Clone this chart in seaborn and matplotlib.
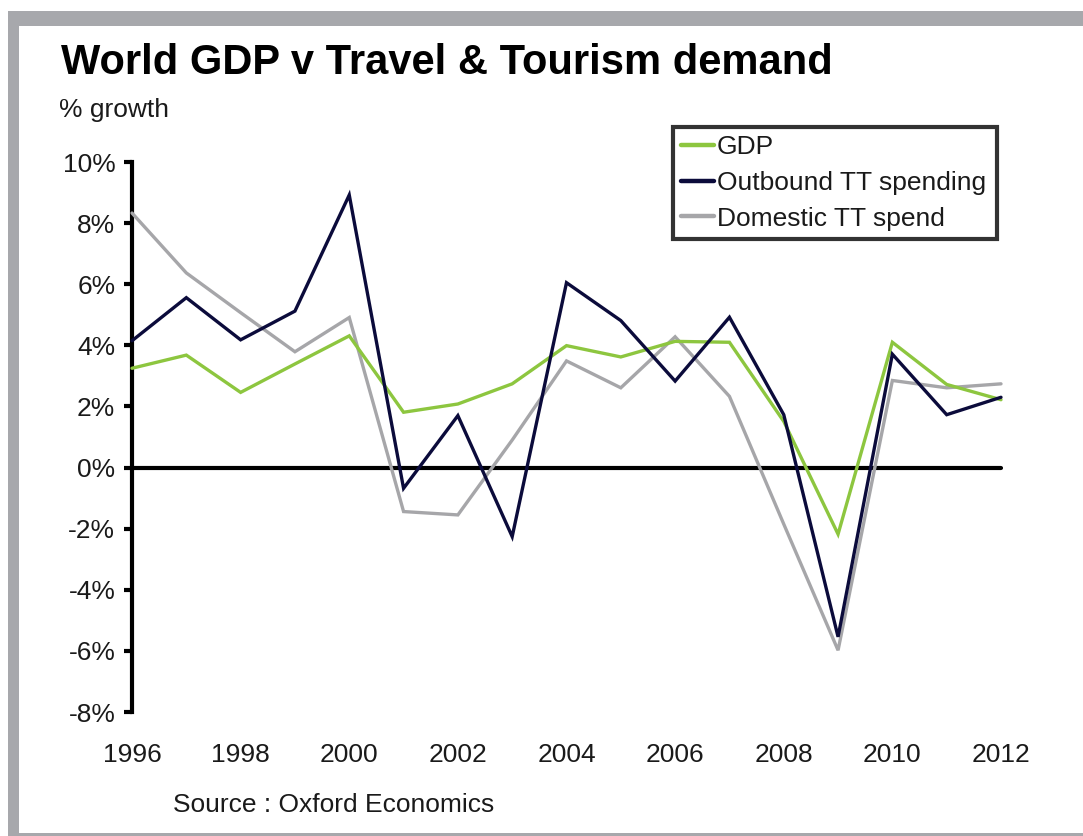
import matplotlib
matplotlib.use("Agg")
import matplotlib.pyplot as plt
from matplotlib.patches import Rectangle
from matplotlib.lines import Line2D
import pandas as pd
import seaborn as sns

# Annual growth rates (%), 1996-2012
years = list(range(1996, 2013))
gdp = [3.25, 3.68, 2.46, 3.39, 4.31, 1.81, 2.08, 2.74, 3.99, 3.62, 4.13, 4.10, 1.51, -2.18, 4.10, 2.72, 2.22]
outbound = [4.15, 5.56, 4.18, 5.12, 8.92, -0.68, 1.70, -2.26, 6.05, 4.81, 2.83, 4.92, 1.73, -5.54, 3.71, 1.73, 2.30]
domestic = [8.33, 6.37, 5.07, 3.79, 4.91, -1.44, -1.55, 0.90, 3.49, 2.61, 4.28, 2.33, -1.85, -5.98, 2.85, 2.61, 2.74]

series_names = ["GDP", "Outbound TT spending", "Domestic TT spend"]
series_colors = ["#8DC63F", "#0B0B3B", "#A6A6A9"]
y_ticks = list(range(-8, 11, 2))
x_ticks = list(range(1996, 2013, 2))

df = pd.DataFrame({
    "year": years * 3,
    "growth": gdp + outbound + domestic,
    "series": [series_names[0]] * len(years) + [series_names[1]] * len(years) + [series_names[2]] * len(years),
})

sns.set_style("white")
plt.rcParams["font.family"] = ["Liberation Sans", "DejaVu Sans"]

W, H = 1083, 836
fig = plt.figure(figsize=(W / 100, H / 100), dpi=100)
fig.patch.set_facecolor("white")

# outer grey frame (top, left, bottom bands)
frame_c = "#A7A8AC"
for (x0, y0, w, h) in [(8, 11, W - 8, 15), (8, 11, 11, H - 11), (8, H - 3, W - 8, 3)]:
    fig.add_artist(Rectangle((x0 / W, 1 - (y0 + h) / H), w / W, h / H,
                             transform=fig.transFigure, facecolor=frame_c,
                             edgecolor="none", zorder=0))

ax_left, ax_right, ax_top, ax_bottom = 132, 1001, 162, 712
ax = fig.add_axes([ax_left / W, 1 - ax_bottom / H, (ax_right - ax_left) / W, (ax_bottom - ax_top) / H])
ax.set_facecolor("none")

sns.lineplot(data=df, x="year", y="growth", hue="series", hue_order=series_names,
             palette=series_colors, linewidth=2.4, ax=ax, legend=False)
for ln, z in zip(ax.lines, [4, 5, 3]):
    ln.set_zorder(z)
    ln.set_clip_on(False)
    ln.set_solid_joinstyle("miter")

ax.axhline(0, color="black", linewidth=3, zorder=2, clip_on=False)

ax.set_xlim(1996, 2012)
ax.set_ylim(-8, 10)
ax.set_yticks(y_ticks)
ax.set_yticklabels([f"{v}%" for v in y_ticks])
ax.set_xticks(x_ticks)
ax.set_xticklabels([str(v) for v in x_ticks])
ax.set_xlabel("")
ax.set_ylabel("")

for s in ["top", "right", "bottom"]:
    ax.spines[s].set_visible(False)
ax.spines["left"].set_linewidth(3)
ax.spines["left"].set_color("black")
ax.tick_params(axis="y", direction="out", length=6, width=3, color="black",
               pad=6, labelsize=19, labelcolor="#1a1a1a", left=True)
ax.tick_params(axis="x", length=0, pad=22, labelsize=19, labelcolor="#1a1a1a")

# legend box
handles = [Line2D([], [], color=c, linewidth=3.2) for c in series_colors]
leg = ax.legend(handles, series_names, loc="upper left", mode="expand",
                bbox_to_anchor=(673 / W, 1 - 238 / H, (997 - 673) / W, (238 - 127) / H),
                bbox_transform=fig.transFigure, borderaxespad=0, frameon=True,
                fancybox=False, fontsize=19, handlelength=1.27, handletextpad=0.1,
                borderpad=0.3, labelspacing=0.45)
fr = leg.get_frame()
fr.set_edgecolor("black")
fr.set_linewidth(3)
fr.set_facecolor("white")
for t in leg.get_texts():
    t.set_color("#1a1a1a")

fig.text(61 / W, 1 - 63 / H, "World GDP v Travel & Tourism demand", fontsize=30,
         fontweight="bold", color="black", va="center", ha="left")
fig.text(59 / W, 1 - 110 / H, "% growth", fontsize=19, color="#1a1a1a", va="center", ha="left")
fig.text(173 / W, 1 - 805 / H, "Source : Oxford Economics", fontsize=19, color="#1a1a1a",
         va="center", ha="left")

fig.savefig("out.png", dpi=100, facecolor="white")
